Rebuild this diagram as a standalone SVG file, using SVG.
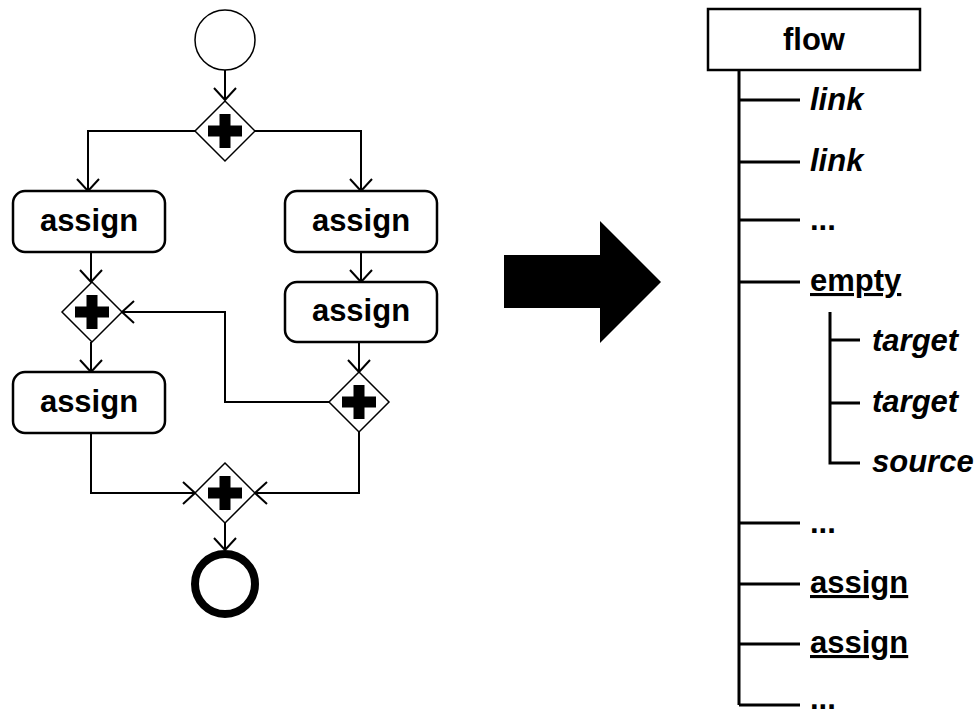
<svg xmlns="http://www.w3.org/2000/svg" width="979" height="716" viewBox="0 0 979 716">
<style>
.t{font-family:"Liberation Sans",Arial,sans-serif;font-weight:bold;font-size:31px;fill:#000}
.c{text-anchor:middle}
.i{font-style:italic}
.u{text-decoration:underline}
.box{fill:#fff;stroke:#000;stroke-width:2.5}
.dia{fill:#fff;stroke:#000;stroke-width:1.5}
.conn{fill:none;stroke:#000;stroke-width:2}
.tree{fill:none;stroke:#000;stroke-width:3}
</style>
<defs>
<marker id="arr" markerUnits="userSpaceOnUse" markerWidth="30" markerHeight="30" viewBox="-15 -15 30 30" refX="0" refY="0" orient="auto">
<path d="M-12,-11 L0,0 L-12,11" fill="none" stroke="#000" stroke-width="2"/>
</marker>
<g id="plus"><rect x="-17" y="-5.5" width="34" height="11" fill="#000"/><rect x="-5.5" y="-17" width="11" height="34" fill="#000"/></g>
</defs>
<rect width="979" height="716" fill="#fff"/>
<g id="connectors">
<path class="conn" d="M225,70 V100" marker-end="url(#arr)"/>
<path class="conn" d="M195,131 H88 V191" marker-end="url(#arr)"/>
<path class="conn" d="M255,131 H361 V191" marker-end="url(#arr)"/>
<path class="conn" d="M91,252 V282" marker-end="url(#arr)"/>
<path class="conn" d="M361,252 V282" marker-end="url(#arr)"/>
<path class="conn" d="M359,342 V372" marker-end="url(#arr)"/>
<path class="conn" d="M329,402 H225 V312 H122" marker-end="url(#arr)"/>
<path class="conn" d="M91,342 V372" marker-end="url(#arr)"/>
<path class="conn" d="M91,433 V493 H195" marker-end="url(#arr)"/>
<path class="conn" d="M359,432 V493 H255" marker-end="url(#arr)"/>
<path class="conn" d="M225,523 V550" marker-end="url(#arr)"/>
</g>
<g id="start"><circle cx="225" cy="40" r="30" fill="#fff" stroke="#000" stroke-width="1.5"/></g>
<g id="fork1"><path class="dia" d="M225,101 L255,131 L225,161 L195,131 Z"/><use href="#plus" x="225" y="131"/></g>
<g id="assignL1"><rect class="box" x="13" y="191" width="152" height="61" rx="12"/><text class="t c" x="89" y="231">assign</text></g>
<g id="assignR1"><rect class="box" x="285" y="191" width="152" height="61" rx="12"/><text class="t c" x="361" y="231">assign</text></g>
<g id="assignR2"><rect class="box" x="285" y="282" width="152" height="60" rx="12"/><text class="t c" x="361" y="321">assign</text></g>
<g id="join2"><path class="dia" d="M92,282 L122,312 L92,342 L62,312 Z"/><use href="#plus" x="92" y="312"/></g>
<g id="fork3"><path class="dia" d="M359,372 L389,402 L359,432 L329,402 Z"/><use href="#plus" x="359" y="402"/></g>
<g id="assignL2"><rect class="box" x="13" y="372" width="152" height="61" rx="12"/><text class="t c" x="89" y="412">assign</text></g>
<g id="join4"><path class="dia" d="M225,463 L255,493 L225,523 L195,493 Z"/><use href="#plus" x="225" y="493"/></g>
<g id="end"><circle cx="225" cy="584" r="30" fill="#fff" stroke="#000" stroke-width="8"/></g>
<g id="bigArrow"><polygon points="504,255 600,255 600,221 661,282 600,343 600,308 504,308" fill="#000"/></g>
<g id="tree">
<path class="tree" d="M739,70 V705 M739,100 H800 M739,162 H800 M739,220 H800 M739,282 H800 M739,523 H800 M739,584 H800 M739,644 H800 M739,705 H800"/>
<path class="tree" d="M830,312 V463 H860 M830,340 H860 M830,403 H860"/>
</g>
<g id="flow"><rect class="box" x="708" y="9" width="212" height="61"/><text class="t c" x="814" y="50">flow</text></g>
<g id="n-link1"><text class="t i" x="810" y="110">link</text></g>
<g id="n-link2"><text class="t i" x="810" y="171">link</text></g>
<g id="n-dots1"><text class="t" x="810" y="230">...</text></g>
<g id="n-empty"><text class="t u" x="810" y="291">empty</text></g>
<g id="n-target1"><text class="t i" x="872" y="351">target</text></g>
<g id="n-target2"><text class="t i" x="872" y="412">target</text></g>
<g id="n-source"><text class="t i" x="872" y="472">source</text></g>
<g id="n-dots2"><text class="t" x="810" y="533">...</text></g>
<g id="n-assign1"><text class="t u" x="810" y="593">assign</text></g>
<g id="n-assign2"><text class="t u" x="810" y="653">assign</text></g>
<g id="n-dots3"><text class="t" x="810" y="709">...</text></g>
</svg>
